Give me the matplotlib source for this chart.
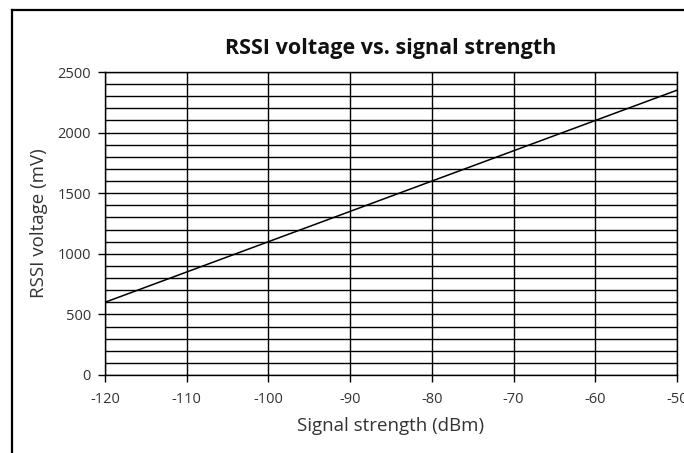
import numpy as np
from matplotlib import pyplot as plt
from matplotlib.lines import Line2D

plt.rcParams['font.family'] = ['Open Sans', 'DejaVu Sans']
plt.rcParams['axes.unicode_minus'] = False

# signal strength (dBm) vs RSSI voltage (mV)
signal_dbm = [-120, -110, -100, -90, -80, -70, -60, -50]
rssi_mv = [600, 850, 1100, 1350, 1600, 1850, 2100, 2350]

x_ticks = [-120, -110, -100, -90, -80, -70, -60, -50]
y_ticks = [0, 500, 1000, 1500, 2000, 2500]

fig = plt.figure(figsize=(6.84, 4.53), dpi=100)
ax = fig.add_axes([105/684, 1 - 375/453, 572/684, 303/453])

ax.plot(signal_dbm, rssi_mv, color='black', linewidth=1.1, zorder=3)

ax.set_xlim(-120, -50)
ax.set_ylim(0, 2500)
ax.set_xticks(x_ticks)
ax.set_yticks(y_ticks)
ax.set_yticks(np.arange(0, 2501, 100), minor=True)
ax.tick_params(which='major', direction='out', length=5, width=1,
               labelsize=10.5, labelcolor='#333333')
ax.tick_params(axis='x', which='major', pad=7)
ax.tick_params(axis='y', which='major', pad=5)
ax.tick_params(which='minor', length=0)
ax.grid(which='major', axis='x', color='black', linewidth=1)
ax.grid(which='both', axis='y', color='black', linewidth=1)
for s in ax.spines.values():
    s.set_linewidth(1)

ax.set_xlabel('Signal strength (dBm)', fontsize=13.5, color='#333333')
ax.set_ylabel('RSSI voltage (mV)', fontsize=13.5, color='#333333')
ax.xaxis.set_label_coords(0.5, -0.14)
ax.yaxis.set_label_coords(-0.10, 0.5)
ax.set_title('RSSI voltage vs. signal strength', fontsize=15.5, fontweight='bold',
             color='#111111', pad=13)

# frame border (left and top only, picture is cropped)
fig.add_artist(Line2D([12/684, 12/684], [0, 1 - 10/453], color='black', linewidth=1.6,
                      transform=fig.transFigure))
fig.add_artist(Line2D([12/684, 1], [1 - 10/453, 1 - 10/453], color='black', linewidth=1.6,
                      transform=fig.transFigure))

fig.savefig('out.png', dpi=100)
